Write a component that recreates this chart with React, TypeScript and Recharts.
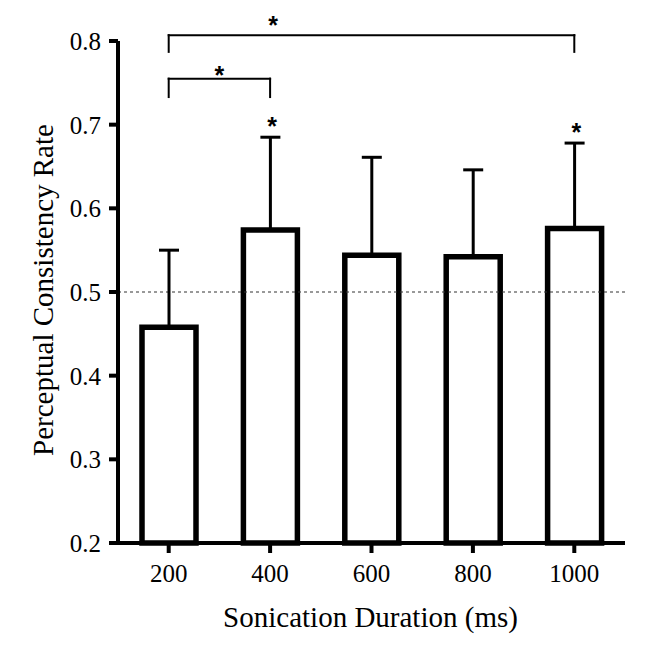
import * as React from "react";
import {
  BarChart,
  Bar,
  XAxis,
  YAxis,
  ErrorBar,
  ReferenceLine,
  ReferenceDot,
} from "recharts";

const durations = ["200", "400", "600", "800", "1000"];
const means = [0.458, 0.574, 0.544, 0.542, 0.576];
const sds = [0.092, 0.111, 0.117, 0.104, 0.102];
const yTicks = [0.2, 0.3, 0.4, 0.5, 0.6, 0.7, 0.8];
const chanceLevel = 0.5;
const starredBars = ["400", "1000"];
const brackets = [
  { from: "200", to: "400", level: 0.755, leg: 0.733, starAt: "" },
  { from: "200", to: "1000", level: 0.807, leg: 0.787, starAt: "400" },
];

const data = durations.map((d, i) => ({
  duration: d,
  mean: means[i],
  err: [0, sds[i]],
}));

const serif = "'Liberation Serif', 'Times New Roman', serif";
const sans = "'Liberation Sans', Arial, sans-serif";

// asterisk glyph sits high in the em box, so push the baseline down
const Star = ({ x, y }: { x: number; y: number }) => (
  <text x={x} y={y + 14} textAnchor="middle" fontFamily={sans} fontSize={25} fontWeight="bold" fill="#000">
    *
  </text>
);

const XTick = (p: any) => (
  <text x={p.x} y={p.y} dy="0.7em" textAnchor="middle" fontFamily={serif} fontSize={25} fill="#000">
    {p.payload.value}
  </text>
);

const YTick = (p: any) => (
  <text x={p.x} y={p.y} dy="0.355em" textAnchor="end" fontFamily={serif} fontSize={25} fill="#000">
    {Number(p.payload.value).toFixed(1)}
  </text>
);

export default function App() {
  return (
    <div style={{ position: "absolute", left: 0, top: 0, width: 645, height: 646, background: "#fff" }}>
      <BarChart width={645} height={646} data={data} margin={{ top: 41, right: 20, left: 0, bottom: 0 }}>
        <XAxis
          dataKey="duration"
          interval={0}
          height={103}
          tickSize={10}
          tickMargin={11}
          axisLine={{ stroke: "#000", strokeWidth: 4 }}
          tickLine={{ stroke: "#000", strokeWidth: 4 }}
          tick={<XTick />}
          label={(p: any) => (
            <text x={370.5} y={627} textAnchor="middle" fontFamily={serif} fontSize={29} fill="#000">
              Sonication Duration (ms)
            </text>
          )}
        />
        <YAxis
          width={118}
          domain={[0.2, 0.8]}
          ticks={yTicks}
          tickSize={9}
          tickMargin={8}
          axisLine={{ stroke: "#000", strokeWidth: 4 }}
          tickLine={{ stroke: "#000", strokeWidth: 4 }}
          tick={<YTick />}
          label={(p: any) => (
            <text transform="translate(53,290) rotate(-90)" textAnchor="middle" fontFamily={serif} fontSize={29} fill="#000">
              Perceptual Consistency Rate
            </text>
          )}
        />
        <ReferenceLine y={chanceLevel} stroke="#333" strokeWidth={1} strokeDasharray="3 3" />
        <Bar dataKey="mean" barSize={54} fill="none" stroke="#000" strokeWidth={5.5} isAnimationActive={false}>
          <ErrorBar dataKey="err" direction="y" width={10} stroke="#000" strokeWidth={3} isAnimationActive={false} />
        </Bar>
        {brackets.map((b, i) => (
          <React.Fragment key={i}>
            <ReferenceLine
              segment={[{ x: b.from, y: b.level }, { x: b.to, y: b.level }]}
              stroke="#000"
              strokeWidth={2}
              strokeLinecap="square"
              ifOverflow="visible"
              label={
                b.starAt
                  ? undefined
                  : (p: any) => <Star x={p.viewBox.x + p.viewBox.width / 2} y={p.viewBox.y - 9} />
              }
            />
            <ReferenceLine
              segment={[{ x: b.from, y: b.level }, { x: b.from, y: b.leg }]}
              stroke="#000"
              strokeWidth={2}
              strokeLinecap="square"
              ifOverflow="visible"
            />
            <ReferenceLine
              segment={[{ x: b.to, y: b.level }, { x: b.to, y: b.leg }]}
              stroke="#000"
              strokeWidth={2}
              strokeLinecap="square"
              ifOverflow="visible"
            />
            {b.starAt ? (
              <ReferenceDot
                x={b.starAt}
                y={b.level}
                r={1}
                ifOverflow="visible"
                shape={(p: any) => <Star x={p.cx + 3} y={p.cy - 15} />}
              />
            ) : null}
          </React.Fragment>
        ))}
        {starredBars.map((d) => {
          const i = durations.indexOf(d);
          return (
            <ReferenceDot
              key={d}
              x={d}
              y={means[i] + sds[i]}
              r={1}
              ifOverflow="visible"
              shape={(p: any) => <Star x={p.cx + 2} y={p.cy - 16} />}
            />
          );
        })}
      </BarChart>
    </div>
  );
}
